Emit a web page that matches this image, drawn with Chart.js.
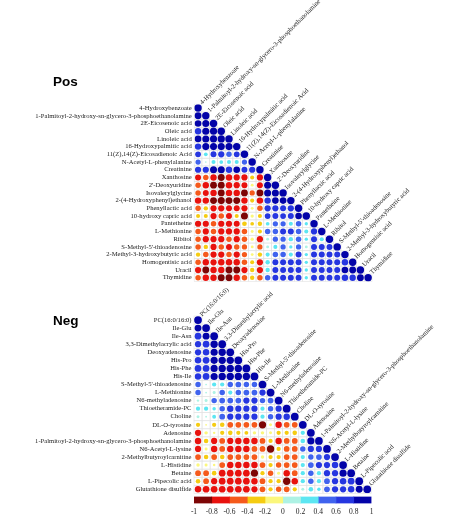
<!DOCTYPE html>
<html>
<head>
<meta charset="utf-8">
<script src="https://cdn.jsdelivr.net/npm/chart.js@4"></script>
<style>
  html, body { margin: 0; padding: 0; background: #fff; }
  #wrap { position: relative; width: 474px; height: 524px; }
  #wrap canvas { position: absolute; left: 0; top: 0; }
</style>
</head>
<body>
<div id="wrap">
  <canvas id="pos-chart" width="474" height="524"></canvas>
  <canvas id="neg-chart" width="474" height="524"></canvas>
  <canvas id="bar-chart" width="474" height="524"></canvas>
</div>
<script>
// --- data ---
const posLabels = [
  '4-Hydroxybenzoate',
  '1-Palmitoyl-2-hydroxy-sn-glycero-3-phosphoethanolamine',
  '2E-Eicosenoic acid',
  'Oleic acid',
  'Linoleic acid',
  '16-Hydroxypalmitic acid',
  '11(Z),14(Z)-Eicosadienoic Acid',
  'N-Acetyl-L-phenylalanine',
  'Creatinine',
  'Xanthosine',
  "2'-Deoxyuridine",
  'Isovalerylglycine',
  '2-(4-Hydroxyphenyl)ethanol',
  'Phenyllactic acid',
  '10-hydroxy capric acid',
  'Pantetheine',
  'L-Methionine',
  'Ribitol',
  "S-Methyl-5'-thioadenosine",
  '2-Methyl-3-hydroxybutyric acid',
  'Homogentisic acid',
  'Uracil',
  'Thymidine'
];

const posValues = [
  [1],
  [0.85, 1],
  [0.8, 0.9, 1],
  [0.75, 0.92, 0.93, 1],
  [0.8, 0.9, 0.92, 0.95, 1],
  [0.75, 0.9, 0.9, 0.92, 0.9, 1],
  [0.6, 0.25, 0.65, 0.7, 0.55, 0.6, 1],
  [0.5, 0.05, 0.3, 0.25, 0.3, 0.3, 0.5, 1],
  [0.7, 0.7, 0.9, 0.9, 0.75, 0.8, 0.65, 0.7, 1],
  [-0.65, -0.55, -0.75, -0.85, -0.75, -0.7, -0.7, -0.3, -0.7, 1],
  [-0.55, -0.75, -0.85, -0.85, -0.75, -0.7, -0.65, -0.15, -0.65, 0.9, 1],
  [-0.55, -0.65, -0.75, -0.85, -0.75, -0.75, -0.85, -0.5, -0.85, 0.9, 0.9, 1],
  [-0.75, -0.75, -0.85, -0.9, -0.85, -0.85, -0.75, -0.3, -0.75, 0.75, 0.8, 0.8, 1],
  [-0.55, -0.35, -0.7, -0.7, -0.65, -0.65, -0.7, -0.15, -0.55, 0.7, 0.7, 0.65, 0.7, 1],
  [-0.3, -0.3, -0.7, -0.55, -0.65, -0.3, -0.9, -0.2, -0.3, 0.6, 0.65, 0.6, 0.65, 0.8, 1],
  [-0.7, -0.7, -0.55, -0.7, -0.7, -0.65, -0.4, -0.25, -0.35, 0.25, 0.5, 0.5, 0.3, 0.55, 0.2, 1],
  [-0.55, -0.7, -0.55, -0.7, -0.7, -0.7, -0.55, -0.15, -0.3, 0.55, 0.55, 0.65, 0.65, 0.55, 0.3, 0.7, 1],
  [-0.55, -0.7, -0.7, -0.7, -0.55, -0.7, -0.55, -0.2, -0.7, 0.15, 0.5, 0.5, 0.35, 0.55, 0.2, 0.65, 0.3, 1],
  [-0.55, -0.35, -0.7, -0.55, -0.65, -0.55, -0.5, -0.15, -0.5, 0.15, 0.3, 0.5, 0.2, 0.5, 0.15, 0.65, 0.65, 0.65, 1],
  [-0.35, -0.55, -0.7, -0.7, -0.55, -0.7, -0.5, -0.15, -0.35, 0.3, 0.55, 0.55, 0.3, 0.65, 0.2, 0.65, 0.65, 0.65, 0.65, 1],
  [-0.55, -0.75, -0.7, -0.75, -0.75, -0.75, -0.55, -0.3, -0.7, 0.35, 0.65, 0.65, 0.65, 0.65, 0.2, 0.65, 0.65, 0.65, 0.65, 0.75, 1],
  [-0.7, -0.85, -0.75, -0.75, -0.85, -0.85, -0.7, -0.35, -0.7, 0.35, 0.65, 0.65, 0.65, 0.65, 0.2, 0.65, 0.65, 0.65, 0.65, 0.8, 0.85, 1],
  [-0.55, -0.75, -0.75, -0.85, -0.85, -0.75, -0.55, -0.35, -0.55, 0.55, 0.65, 0.65, 0.65, 0.65, 0.2, 0.65, 0.65, 0.65, 0.65, 0.75, 0.75, 0.85, 1]
];

const negLabels = [
  'PC(16:0/16:0)',
  'Ile-Glu',
  'Ile-Asn',
  '3,3-Dimethylacrylic acid',
  'Deoxyadenosine',
  'His-Pro',
  'His-Phe',
  'His-Ile',
  "S-Methyl-5'-thioadenosine",
  'L-Methionine',
  'N6-methyladenosine',
  'Thioetheramide-PC',
  'Choline',
  'DL-O-tyrosine',
  'Adenosine',
  '1-Palmitoyl-2-hydroxy-sn-glycero-3-phosphoethanolamine',
  'N6-Acetyl-L-lysine',
  '2-Methylbutyroylcarnitine',
  'L-Histidine',
  'Betaine',
  'L-Pipecolic acid',
  'Glutathione disulfide'
];

const negValues = [
  [1],
  [0.8, 1],
  [0.75, 0.8, 1],
  [0.65, 0.75, 0.9, 1],
  [0.65, 0.7, 0.85, 0.9, 1],
  [0.7, 0.75, 0.85, 0.9, 0.9, 1],
  [0.75, 0.75, 0.85, 0.9, 0.9, 0.9, 1],
  [0.7, 0.75, 0.85, 0.9, 0.9, 0.9, 0.9, 1],
  [0.5, 0.05, 0.3, 0.3, 0.5, 0.55, 0.5, 0.5, 1],
  [0.5, 0.05, 0.15, 0.5, 0.3, 0.5, 0.55, 0.55, 0.65, 1],
  [0.1, 0.15, 0.5, 0.55, 0.55, 0.55, 0.65, 0.65, 0.5, 0.55, 1],
  [0.3, 0.3, 0.2, 0.5, 0.7, 0.65, 0.65, 0.65, 0.3, 0.5, 0.65, 1],
  [0.15, 0.05, 0.25, 0.55, 0.65, 0.65, 0.65, 0.65, 0.3, 0.5, 0.65, 0.7, 1],
  [-0.3, -0.05, -0.3, -0.35, -0.55, -0.55, -0.55, -0.55, -0.9, -0.15, -0.7, -0.55, -0.55, 1],
  [-0.65, -0.2, -0.1, -0.3, -0.35, -0.3, -0.25, -0.2, -0.2, -0.15, -0.3, -0.3, -0.35, 0.3, 1],
  [-0.7, -0.35, -0.65, -0.55, -0.65, -0.7, -0.7, -0.7, -0.55, -0.3, -0.7, -0.55, -0.55, 0.35, 0.85, 1],
  [-0.65, -0.15, -0.7, -0.55, -0.7, -0.7, -0.7, -0.55, -0.55, -0.9, -0.3, -0.55, -0.55, 0.5, 0.65, 0.65, 1],
  [-0.55, -0.35, -0.55, -0.35, -0.55, -0.55, -0.55, -0.55, -0.2, -0.3, -0.3, -0.55, -0.55, 0.3, 0.5, 0.55, 0.65, 1],
  [-0.2, -0.15, -0.1, -0.55, -0.7, -0.7, -0.7, -0.7, -0.55, -0.3, -0.5, -0.55, -0.55, 0.3, 0.55, 0.65, 0.65, 0.7, 1],
  [-0.55, -0.55, -0.35, -0.75, -0.75, -0.75, -0.75, -0.85, -0.3, -0.5, -0.15, -0.7, -0.55, 0.3, 0.5, 0.3, 0.65, 0.65, 0.85, 1],
  [-0.35, -0.55, -0.65, -0.75, -0.75, -0.75, -0.75, -0.7, -0.55, -0.3, -0.3, -0.9, -0.7, 0.3, 0.5, 0.3, 0.55, 0.65, 0.7, 0.75, 1],
  [-0.7, -0.75, -0.75, -0.75, -0.75, -0.75, -0.75, -0.65, -0.55, -0.3, -0.5, -0.55, -0.3, 0.15, 0.35, 0.2, 0.55, 0.65, 0.65, 0.7, 0.8, 1]
];

// colour key: 10 bins from -1 to 1
const binEdges = [-1, -0.8, -0.6, -0.4, -0.2, 0, 0.2, 0.4, 0.6, 0.8, 1];
const binColors = ['#7d0505', '#e8120e', '#f55a1c', '#f5cc12', '#fbf77c',
                   '#aef2e4', '#5ce6f2', '#4063ee', '#2636e0', '#0303a8'];

const serif = 'Liberation Serif, Times New Roman, serif';

function colorFor(v) {
  let k = Math.floor((v + 1) / 0.2 + 1e-9);
  if (k > 9) k = 9;
  if (k < 0) k = 0;
  return binColors[k];
}

function toPoints(values) {
  const pts = [];
  values.forEach((row, i) => {
    row.forEach((v, j) => pts.push({ x: j, y: i, v: v }));
  });
  return pts;
}

// draws the cell grid, diagonal labels and panel title
function matrixPlugin(labels, title, titleY) {
  return {
    id: 'matrixExtras',
    beforeDatasetsDraw(chart) {
      const { ctx, scales: { x, y } } = chart;
      ctx.save();
      ctx.strokeStyle = '#e3e3e3';
      ctx.lineWidth = 0.6;
      for (let i = 0; i < labels.length; i++) {
        for (let j = 0; j <= i; j++) {
          const x0 = x.getPixelForValue(j - 0.5), x1 = x.getPixelForValue(j + 0.5);
          const y0 = y.getPixelForValue(i - 0.5), y1 = y.getPixelForValue(i + 0.5);
          ctx.strokeRect(x0, y0, x1 - x0, y1 - y0);
        }
      }
      ctx.restore();
    },
    afterDraw(chart) {
      const { ctx, scales: { x, y } } = chart;
      ctx.save();
      ctx.fillStyle = '#222';
      ctx.font = '6.6px ' + serif;
      ctx.textAlign = 'left';
      ctx.textBaseline = 'middle';
      labels.forEach((lab, i) => {
        const px = x.getPixelForValue(i), py = y.getPixelForValue(i);
        ctx.save();
        ctx.translate(px + 3, py - 4.5);
        ctx.rotate(-Math.PI / 4);
        ctx.fillText(lab, 0, 0);
        ctx.restore();
      });
      ctx.fillStyle = '#000';
      ctx.font = 'bold 13.5px Liberation Sans, Arial, sans-serif';
      ctx.textBaseline = 'alphabetic';
      ctx.fillText(title, 53, titleY);
      ctx.restore();
    }
  };
}

function makeMatrix(canvasId, labels, values, area, title, titleY) {
  const n = labels.length;
  const dotRadius = (c) => {
    const xs = c.chart.scales.x;
    const cell = Math.abs(xs.getPixelForValue(1) - xs.getPixelForValue(0));
    return 0.48 * cell * Math.sqrt(Math.abs(c.raw.v));
  };
  return new Chart(document.getElementById(canvasId), {
    type: 'scatter',
    data: {
      datasets: [{
        data: toPoints(values),
        pointRadius: dotRadius,
        pointHoverRadius: dotRadius,
        pointBackgroundColor: (c) => colorFor(c.raw.v),
        pointBorderWidth: 0
      }]
    },
    options: {
      responsive: false,
      animation: false,
      layout: {
        padding: { left: 0, top: area.top, right: 474 - area.right, bottom: 524 - area.bottom }
      },
      scales: {
        x: { type: 'linear', min: -0.5, max: n - 0.5, display: false },
        y: {
          type: 'linear',
          reverse: true,
          min: -0.5,
          max: n - 0.5,
          afterBuildTicks: (s) => { s.ticks = labels.map((_, i) => ({ value: i })); },
          afterFit: (s) => { s.width = area.left; },
          ticks: {
            autoSkip: false,
            padding: 2.5,
            color: '#222',
            font: { family: serif, size: 6.6 },
            callback: (v) => labels[v]
          },
          grid: { display: false, drawTicks: false },
          border: { display: false }
        }
      },
      plugins: { legend: { display: false }, tooltip: { enabled: false } }
    },
    plugins: [matrixPlugin(labels, title, titleY)]
  });
}

makeMatrix('pos-chart', posLabels, posValues,
  { left: 194.2, right: 372, top: 104.2, bottom: 281.6 }, 'Pos', 86);
makeMatrix('neg-chart', negLabels, negValues,
  { left: 194, right: 371.3, top: 316, bottom: 493.3 }, 'Neg', 325);

// colour bar
new Chart(document.getElementById('bar-chart'), {
  type: 'bar',
  data: {
    labels: [''],
    datasets: binColors.map((c, k) => ({
      data: [[binEdges[k], binEdges[k + 1]]],
      backgroundColor: c,
      borderWidth: 0,
      grouped: false,
      barPercentage: 1,
      categoryPercentage: 1
    }))
  },
  options: {
    indexAxis: 'y',
    responsive: false,
    animation: false,
    layout: { padding: { left: 194, right: 102.5, top: 496.5, bottom: 6.5 } },
    scales: {
      x: {
        min: -1,
        max: 1,
        afterFit: (s) => { s.height = 14; },
        ticks: {
          stepSize: 0.2,
          padding: 4,
          color: '#222',
          font: { family: serif, size: 7.5 },
          callback: (v) => String(Math.round(v * 10) / 10)
        },
        grid: { display: false, drawTicks: false },
        border: { display: false }
      },
      y: { display: false }
    },
    plugins: { legend: { display: false }, tooltip: { enabled: false } }
  }
});
</script>
</body>
</html>
